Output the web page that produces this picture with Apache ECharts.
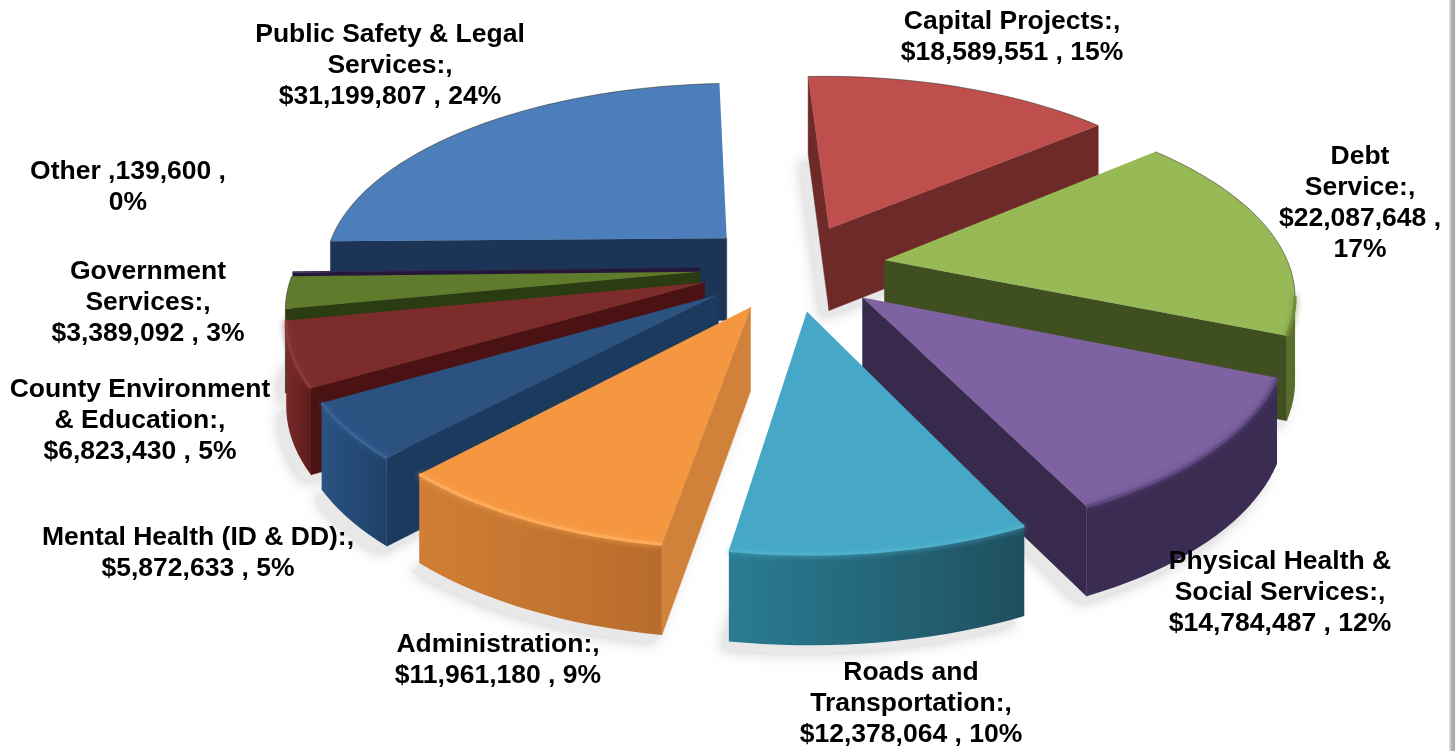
<!DOCTYPE html>
<html>
<head>
<meta charset="utf-8">
<title>County budget by function</title>
<script src="https://cdn.jsdelivr.net/npm/echarts@6/dist/echarts.min.js"></script>
<style>
	html, body { margin: 0; padding: 0; background: #fff; }
	#main { width: 1455px; height: 751px; }
</style>
</head>
<body>
	<div id="main"></div>
	<script type="text/javascript">
		// data, in the order the chart's sheet has it (clockwise)
		var categories = ['Public Safety & Legal Services', 'Capital Projects', 'Debt Service',
			'Physical Health & Social Services', 'Roads and Transportation', 'Administration',
			'Mental Health (ID & DD)', 'County Environment & Education', 'Government Services', 'Other'];
		var values = [31199807, 18589551, 22087648, 14784487, 12378064, 11961180, 5872633, 6823430, 3389092, 139600];
		var labels = [
			'Public Safety & Legal\nServices:,\n$31,199,807 , 24%',
			'Capital Projects:,\n$18,589,551 , 15%',
			'Debt\nService:,\n$22,087,648 ,\n17%',
			'Physical Health &\nSocial Services:,\n$14,784,487 , 12%',
			'Roads and\nTransportation:,\n$12,378,064 , 10%',
			'Administration:,\n$11,961,180 , 9%',
			'Mental Health (ID & DD):,\n$5,872,633 , 5%',
			'County Environment\n& Education:,\n$6,823,430 , 5%',
			'Government\nServices:,\n$3,389,092 , 3%',
			'Other ,139,600 ,\n0%'
		];

		// label anchors, top of the first line
		var labelX = [390, 1012, 1360, 1280, 911, 498, 198, 140, 148, 128];
		var labelY = [19, 6, 141, 546, 657, 629, 522, 374, 256, 156];

		// colours per slice
		var topColors = ['#4B7EBB', '#BE4F4C', '#97B956', '#7F62A1', '#46A8C6', '#F59640', '#2C5282', '#7C2C2B', '#5F7C2C', '#3A2A55'];
		var wallColors = ['#1C3557', '#6E2A28', '#3F4F20', '#372A4C', '#1F4D5C', '#D0823B', '#1A3A5E', '#4A1212', '#2B3B12', '#24183A'];
		var rimLeft = ['#1F3A60', '#6E2A28', '#5A6E2C', '#3A2C52', '#2A7C93', '#D07E35', '#2A5484', '#7A2A2A', '#33451A', '#2A1D3D'];
		var rimRight = ['#1F3A60', '#6E2A28', '#5A6E2C', '#3A2C52', '#1F4F5E', '#B86C2C', '#1E4068', '#5C1C1C', '#33451A', '#2A1D3D'];
		var bevelColors = ['#6C9AD0', '#D06A66', '#6F8A3A', '#5F4A82', '#4FB0CC', '#FFAC5A', '#3A6496', '#8A3A38', '#6F8E38', '#3A2A55'];

		// projection of the tilted pie
		var cx = 793, cy = 267, rx = 405, ry = 188;
		var persp = 0.16, explode = 0.23, firstAngle = 269;

		var total = values.reduce(function (a, b) { return a + b; }, 0);
		var rows = [];
		var acc = firstAngle;
		values.forEach(function (v, i) {
			var span = v / total * 360;
			var mid = (acc + span / 2) * Math.PI / 180;
			rows.push({ value: [v, acc, acc + span, i], depth: -Math.cos(mid) });
			acc += span;
		});
		// painter's order, far slices first
		rows.sort(function (a, b) { return a.depth - b.depth; });

		function project(X, Y, low) {
			var s = 1 / (1 - persp * Y);
			return [cx + rx * X * s, cy + ry * Y * s + (low ? 50 + 33 * s : 0)];
		}

		function sliceGeometry(api) {
			var a0 = api.value(1), a1 = api.value(2);
			var mid = (a0 + a1) / 2 * Math.PI / 180;
			var ax = Math.sin(mid) * explode, ay = -Math.cos(mid) * explode;
			var arcT = [], arcB = [];
			var n = Math.max(2, Math.ceil((a1 - a0) / 2));
			for (var k = 0; k <= n; k++) {
				var t = (a0 + (a1 - a0) * k / n) * Math.PI / 180;
				var X = ax + Math.sin(t), Y = ay - Math.cos(t);
				arcT.push(project(X, Y, false));
				arcB.push(project(X, Y, true));
			}
			return { apexT: project(ax, ay, false), apexB: project(ax, ay, true), arcT: arcT, arcB: arcB };
		}

		// screen-space shoelace, negative when a wall faces the viewer
		function area(pts) {
			var sum = 0;
			for (var i = 0; i < pts.length; i++) {
				var p = pts[i], q = pts[(i + 1) % pts.length];
				sum += p[0] * q[1] - q[0] * p[1];
			}
			return sum / 2;
		}

		function poly(points, style) {
			return { type: 'polygon', shape: { points: points }, style: style, silent: true };
		}

		function renderShadow(params, api) {
			var g = sliceGeometry(api);
			return {
				type: 'group',
				x: -8,
				y: 8,
				children: [poly([g.apexB].concat(g.arcB), {
					fill: '#e8e8e8',
					shadowBlur: 14,
					shadowColor: 'rgba(0,0,0,0.22)'
				})]
			};
		}

		function renderSlice(params, api) {
			var i = api.value(3);
			var g = sliceGeometry(api);
			var last = g.arcT.length - 1;
			var children = [];

			// radial walls
			var wall0 = [g.apexT, g.arcT[0], g.arcB[0], g.apexB];
			var wall1 = [g.arcT[last], g.apexT, g.apexB, g.arcB[last]];
			[wall0, wall1].forEach(function (w) {
				if (area(w) < 0) {
					children.push(poly(w, { fill: wallColors[i], stroke: wallColors[i], lineWidth: 0.5 }));
				}
			});

			// outer rim, only the run of arc that faces the viewer
			var top = [], bottom = [], back = [];
			for (var k = 0; k < last; k++) {
				var q = [g.arcT[k], g.arcT[k + 1], g.arcB[k + 1], g.arcB[k]];
				if (area(q) < 0) {
					if (!top.length) { top.push(g.arcT[k]); bottom.push(g.arcB[k]); }
					top.push(g.arcT[k + 1]);
					bottom.push(g.arcB[k + 1]);
				} else {
					back.push(g.arcT[k], g.arcT[k + 1]);
				}
			}
			if (top.length > 1) {
				children.push(poly(top.concat(bottom.slice().reverse()), {
					fill: {
						type: 'linear', x: 0, y: 0, x2: 1, y2: 0,
						colorStops: [{ offset: 0, color: rimLeft[i] }, { offset: 1, color: rimRight[i] }]
					}
				}));
			}

			// top face
			children.push(poly([g.apexT].concat(g.arcT), { fill: topColors[i] }));

			// bevel highlight on the near edge, thin dark line on the far one
			if (top.length > 1) {
				children.push({
					type: 'polyline',
					shape: { points: top },
					silent: true,
					style: { fill: null, stroke: bevelColors[i], lineWidth: 3, shadowBlur: 6, shadowColor: bevelColors[i] }
				});
			}
			if (back.length) {
				children.push({
					type: 'polyline',
					shape: { points: back },
					silent: true,
					style: { fill: null, stroke: 'rgba(50,50,40,0.55)', lineWidth: 1 }
				});
			}
			return { type: 'group', children: children };
		}

		var labelGraphics = labels.map(function (text, i) {
			return {
				type: 'text',
				x: labelX[i],
				y: labelY[i],
				z: 100,
				silent: true,
				style: {
					text: text,
					fill: '#000',
					font: 'bold 26.5px "Liberation Sans", Arial, sans-serif',
					lineHeight: 31,
					align: 'center',
					verticalAlign: 'top'
				}
			};
		});

		// thin grey strip at the right edge of the picture
		var edgeStrip = {
			type: 'rect',
			shape: { x: 1449, y: 0, width: 6, height: 751 },
			silent: true,
			style: {
				fill: {
					type: 'linear', x: 0, y: 0, x2: 1, y2: 0,
					colorStops: [{ offset: 0, color: '#ececec' }, { offset: 0.4, color: '#b4b4b4' }, { offset: 1, color: '#a4a4a4' }]
				}
			}
		};

		var myChart = echarts.init(document.getElementById('main'), null, { renderer: 'canvas' });
		myChart.setOption({
			animation: false,
			backgroundColor: '#fff',
			tooltip: { show: false },
			graphic: [edgeStrip].concat(labelGraphics),
			series: [
				{ type: 'custom', name: 'shadow', coordinateSystem: 'none', silent: true, z: 1, renderItem: renderShadow, data: rows },
				{ type: 'custom', name: 'budget', coordinateSystem: 'none', silent: true, z: 2, renderItem: renderSlice, data: rows }
			]
		});
	</script>
</body>
</html>
